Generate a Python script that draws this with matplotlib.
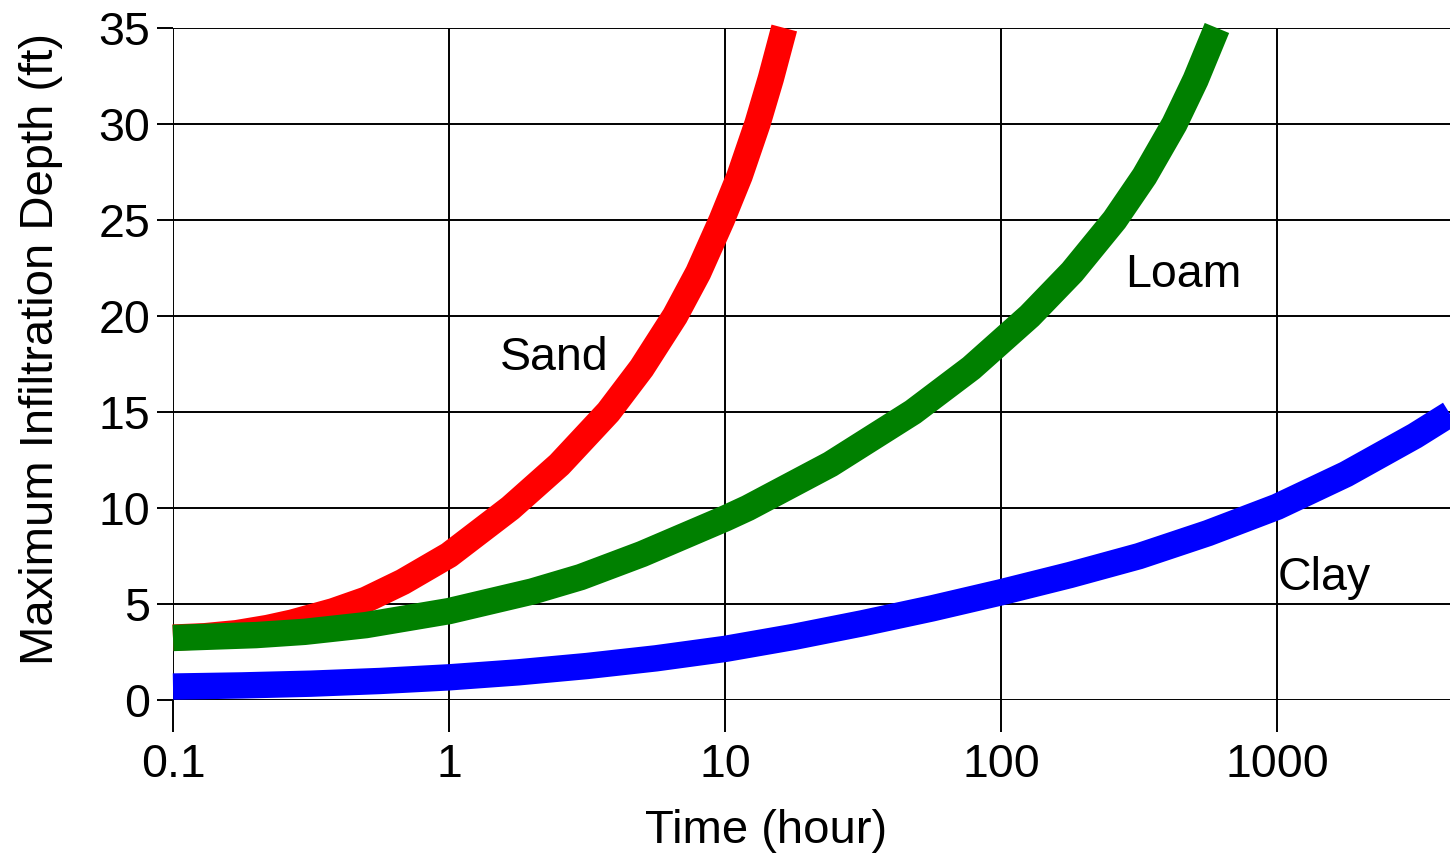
import matplotlib
matplotlib.use('Agg')
import matplotlib.pyplot as plt

plt.rcParams['font.family'] = ['Liberation Sans', 'DejaVu Sans']

# time (hour) vs maximum infiltration depth (ft) for each soil
sand_t = [0.1, 0.13, 0.17, 0.22, 0.27, 0.38, 0.5, 0.68, 1.0, 1.67, 2.51, 3.78, 4.99, 6.59,
          8.0, 9.73, 11.3, 13.1, 14.66, 16.4]
sand_d = [3.25, 3.32, 3.48, 3.75, 4.03, 4.62, 5.22, 6.15, 7.55, 10.0, 12.26, 15.0, 17.29, 20.0,
          22.26, 25.0, 27.3, 30.0, 32.37, 35.0]

loam_t = [0.1, 0.2, 0.3, 0.5, 1.0, 2.0, 3.0, 5.0, 10.0, 12.1, 24.1, 48.0, 78.0, 127.0,
          181.0, 258.0, 331.0, 425.0, 507.0, 606.0]
loam_d = [3.23, 3.38, 3.55, 3.9, 4.63, 5.65, 6.4, 7.6, 9.45, 10.0, 12.28, 15.0, 17.29, 20.0,
          22.29, 25.0, 27.28, 30.0, 32.3, 35.0]

clay_t = [0.1, 0.178, 0.316, 0.562, 1.0, 1.78, 3.16, 5.62, 10.0, 17.8, 31.6, 56.2, 100.0,
          178.0, 316.0, 562.0, 1000.0, 1778.0, 3162.0, 4235.0]
clay_d = [0.7, 0.76, 0.85, 0.99, 1.18, 1.44, 1.77, 2.17, 2.66, 3.29, 4.0, 4.77, 5.61,
          6.51, 7.49, 8.69, 10.06, 11.76, 13.76, 14.9]

xticks = [0.1, 1, 10, 100, 1000]
xticklabels = ['0.1', '1', '10', '100', '1000']
yticks = [0, 5, 10, 15, 20, 25, 30, 35]

fig = plt.figure(figsize=(14.5, 8.61), dpi=100)
ax = fig.add_axes([0.1193, 0.1870, 0.8807, 0.7805])

lw = 19
style = dict(lw=lw, solid_capstyle='butt', solid_joinstyle='round', clip_on=False, zorder=3)
ax.plot(sand_t, sand_d, color='#ff0000', **style)
ax.plot(loam_t, loam_d, color='#008000', **style)
ax.plot(clay_t, clay_d, color='#0000ff', **style)

ax.set_xscale('log')
ax.set_xlim(0.1, 4235)
ax.set_ylim(0, 35)
ax.set_xticks(xticks)
ax.set_xticklabels(xticklabels)
ax.xaxis.set_minor_locator(matplotlib.ticker.NullLocator())
ax.set_yticks(yticks)

ax.grid(True, color='black', lw=1.4)
ax.set_axisbelow(True)
for s in ax.spines.values():
    s.set_visible(False)

ax.tick_params(axis='x', direction='out', length=23, width=1.4, pad=8, labelsize=33.5)
ax.tick_params(axis='y', direction='out', length=11.5, width=1.4, pad=5, labelsize=33.5)

ax.set_xlabel('Time (hour)', fontsize=34)
ax.set_ylabel('Maximum Infiltration Depth (ft)', fontsize=34)
ax.xaxis.set_label_coords(0.4644, -0.162)
ax.yaxis.set_label_coords(-0.086, 0.522)

ax.text(1.53, 17.2, 'Sand', fontsize=33.5, ha='left', va='baseline')
ax.text(281, 21.5, 'Loam', fontsize=33.5, ha='left', va='baseline')
ax.text(1009, 5.73, 'Clay', fontsize=33.5, ha='left', va='baseline')

fig.savefig('out.png', dpi=100)
